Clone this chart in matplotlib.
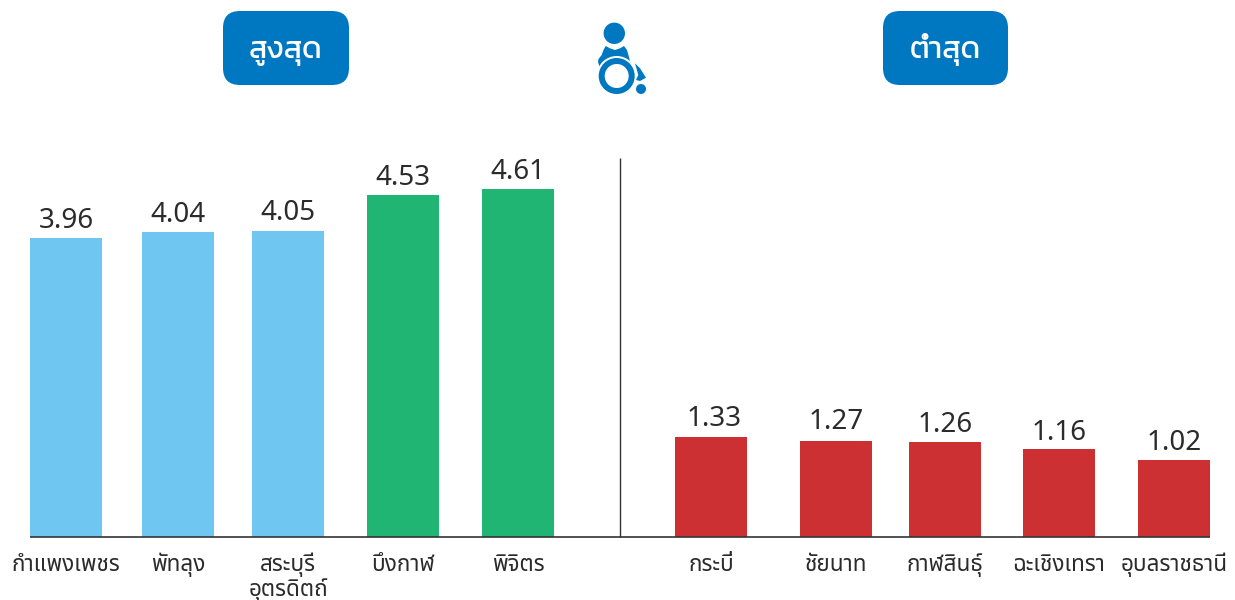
import matplotlib
matplotlib.use('Agg')
import matplotlib.pyplot as plt
from matplotlib.patches import Circle, FancyBboxPatch, Polygon, Wedge

# provinces and values
top_names = ['กำแพงเพชร', 'พัทลุง', 'สระบุรี\nอุตรดิตถ์', 'บึงกาฬ', 'พิจิตร']
top_values = [3.96, 4.04, 4.05, 4.53, 4.61]
low_names = ['กระบี่', 'ชัยนาท', 'กาฬสินธุ์', 'ฉะเชิงเทรา', 'อุบลราชธานี']
low_values = [1.33, 1.27, 1.26, 1.16, 1.02]
top_title = 'สูงสุด'
low_title = 'ต่ำสุด'

# bar centres in figure pixels
top_x = [66, 178, 288, 403, 518]
low_x = [711, 836, 945, 1059, 1174]

LIGHT = '#6FC7F1'
GREEN = '#20B573'
RED = '#CC3033'
BLUE = '#0078C1'
DARK = '#2B2B2B'
THAI = ['Noto Sans Thai', 'DejaVu Sans']
HEAD = ['Kanit', 'Noto Sans Thai', 'DejaVu Sans']
NUM = ['Noto Sans', 'DejaVu Sans']
PX = 75.5  # pixels per unit

fig = plt.figure(figsize=(12.35, 6), dpi=100)
ax = fig.add_axes([0, 0, 1, 1])
ax.set_xlim(0, 1235)
ax.set_ylim(-(600 - 537) / PX, 537 / PX)
ax.axis('off')

top_colors = [LIGHT, LIGHT, LIGHT, GREEN, GREEN]
ax.bar(top_x, top_values, width=72, color=top_colors)
ax.bar(low_x, low_values, width=72, color=RED)
ax.plot([30, 1210], [0, 0], color='#333333', lw=1.2, solid_capstyle='butt')
ax.plot([620, 620], [0, (537 - 158) / PX], color='#333333', lw=1.0, solid_capstyle='butt')

# a few labels sit slightly off centre or higher in the original
nudge = {1.33: (3, 1), 4.05: (0, 2), 1.27: (0, 2)}
for x, v in zip(top_x + low_x, top_values + low_values):
    dx, dy = nudge.get(v, (0, 0))
    ax.annotate('%.2f' % v, (x, v), xytext=(dx * 0.72, 7 + dy * 0.72), textcoords='offset points',
                ha='center', va='baseline', fontsize=20, fontweight='medium', color=DARK, family=NUM)

for x, name in zip(top_x + low_x, top_names + low_names):
    for i, line in enumerate(name.split('\n')):
        ax.annotate(line, (x, 0), xytext=(0, -24.5 - i * 18), textcoords='offset points',
                    ha='center', va='baseline', fontsize=16.2, color=DARK, family=THAI)

# overlay in pixel coordinates for the header pills and icon
ov = fig.add_axes([0, 0, 1, 1])
ov.set_xlim(0, 1235)
ov.set_ylim(600, 0)
ov.axis('off')
ov.patch.set_alpha(0)

for x0, x1, label in [(223, 349, top_title), (883, 1008, low_title)]:
    ov.add_patch(FancyBboxPatch((x0, 11), x1 - x0, 74, boxstyle='round,pad=0,rounding_size=17',
                                fc=BLUE, ec='none'))
    ov.text((x0 + x1) / 2, 58, label, ha='center', va='baseline', color='white',
            fontsize=22, family=HEAD)

# wheelchair icon
body = [(605.7, 46), (610, 48.3), (615, 50), (620, 48.3), (624, 46), (627, 50), (629.5, 59),
        (631, 68), (600, 68), (598, 62), (598.5, 59), (601.7, 55), (603.5, 50)]
foot = [(635, 63.3), (640, 68.3), (646, 77.7), (640, 81), (636, 80), (638.3, 75)]
ov.add_patch(Polygon(body, closed=True, fc=BLUE, ec='none'))
ov.add_patch(Circle((614.3, 33.3), 10.7, fc=BLUE, ec='none'))
ov.add_patch(Circle((616.7, 76), 20, fc='white', ec='none'))
ov.add_patch(Wedge((616.7, 76), 18, 0, 360, width=6, fc=BLUE, ec='none'))
ov.add_patch(Polygon(foot, closed=True, fc=BLUE, ec='none'))
ov.add_patch(Circle((641, 89), 5, fc=BLUE, ec='none'))

fig.savefig('out.png', dpi=100)
